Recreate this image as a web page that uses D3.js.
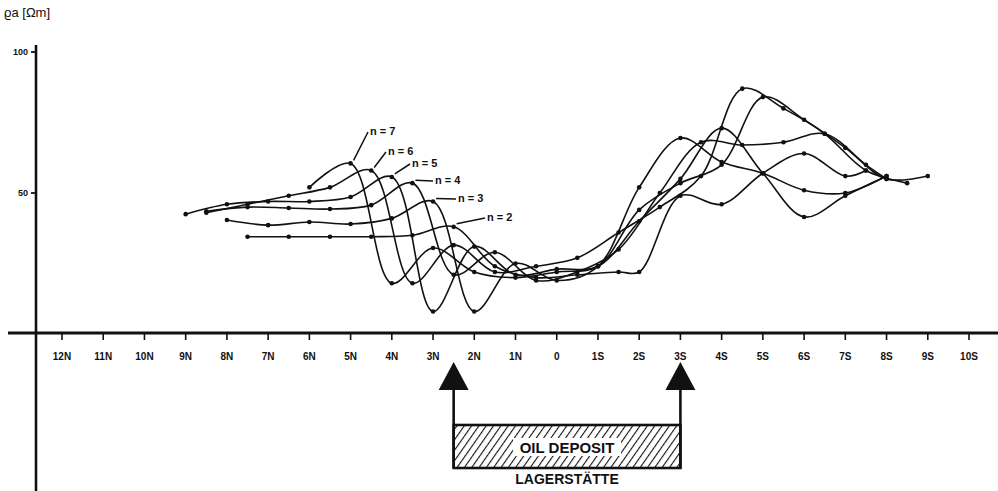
<!DOCTYPE html>
<meta charset="utf-8">
<style>
body { margin: 0; background: #fff; }
svg { display: block; }
text { font-family: "Liberation Sans", Arial, sans-serif; fill: #111; }
</style>
<body>
<script src="https://d3js.org/d3.v7.min.js"></script>
<script>

// station positions: N negative, S positive
var stations = [-12,-11,-10,-9,-8,-7,-6,-5,-4,-3,-2,-1,0,1,2,3,4,5,6,7,8,9,10];
var stationLabels = ["12N","11N","10N","9N","8N","7N","6N","5N","4N","3N","2N","1N","0",
                     "1S","2S","3S","4S","5S","6S","7S","8S","9S","10S"];
var yTicks = [50, 100];

// apparent resistivity [position, ohm-m] for each separation n
var n2 = [[-7.5,34.5],[-6.5,34.5],[-5.5,34.5],[-4.5,34.5],[-3.5,35],[-2.5,38],[-1.5,24],[-0.5,20],
          [0.5,21],[1.5,22],[2,22],[3,49],[4,46],[5,57],[6,64],[7,56],[7.5,58]];
var n3 = [[-8,40.4],[-7,38.6],[-6,39.7],[-5,39],[-4,41],[-3,47],[-2,8],[-1,25],[0,19],[1,24],
          [2,52],[3,69.5],[4,61],[5,57],[6,51],[7,50],[8,56]];
var n4 = [[-8.5,43.5],[-7.5,45],[-6.5,44.7],[-5.5,44.3],[-4.5,45.7],[-3.5,53.5],[-2.5,21],[-1.5,29],
          [-0.5,19],[0.5,22],[1.5,30],[2.5,50],[3.5,68],[4.5,67],[5.5,68],[6.5,71],[7.5,60],[8,55]];
var n5 = [[-9,42.5],[-8,46],[-7,47],[-6,47],[-5,48.6],[-4,55.7],[-3,8],[-2,31],[-1,21],[0,23],[1,24],
          [2,40],[3,55],[4,73],[5,57],[6,41.5],[7,49],[8,56]];
var n6 = [[-8.5,43],[-7.5,46],[-6.5,49],[-5.5,52],[-4.5,58],[-3.5,18],[-2.5,31.5],[-1.5,22],[-0.5,24],
          [0.5,27],[1.5,36],[2.5,45],[3.5,56],[4.5,87],[5.5,80],[6.5,71],[7.5,58],[8.5,53.5]];
var n7 = [[-6,52],[-5,60.5],[-4,18],[-3,30.5],[-2,22],[-1,20],[0,22],[1,24],[2,44],[3,53.5],
          [4,60],[5,84],[6,76],[7,66],[8,55],[9,56]];

var seriesNames = ["n = 7","n = 6","n = 5","n = 4","n = 3","n = 2"];
var seriesData = [n7, n6, n5, n4, n3, n2];
// deposit edges
var depositStart = -2.5, depositEnd = 3;

var width = 998, height = 491;

var svg = d3.select("body").append("svg")
    .attr("width", width)
    .attr("height", height);

var x = d3.scaleLinear().domain([-12, 10]).range([62, 969]);
var y = d3.scaleLinear().domain([0, 100]).range([334, 52]);

// axes lines
svg.append("line")
    .attr("x1", 36).attr("x2", 36).attr("y1", 45).attr("y2", height)
    .attr("stroke", "#111").attr("stroke-width", 2.6);
svg.append("line")
    .attr("x1", 8).attr("x2", width).attr("y1", 333).attr("y2", 333)
    .attr("stroke", "#111").attr("stroke-width", 3);

// x ticks
var xg = svg.append("g");
xg.selectAll("line").data(stations).enter().append("line")
    .attr("x1", function(d) { return x(d); })
    .attr("x2", function(d) { return x(d); })
    .attr("y1", 333).attr("y2", 340)
    .attr("stroke", "#111").attr("stroke-width", 1.6);
xg.selectAll("text").data(stations).enter().append("text")
    .attr("x", function(d) { return x(d); })
    .attr("y", 360)
    .attr("text-anchor", "middle")
    .attr("font-size", 10)
    .attr("font-weight", "bold")
    .text(function(d, i) { return stationLabels[i]; });

// y ticks
var yg = svg.append("g");
yg.selectAll("line").data(yTicks).enter().append("line")
    .attr("x1", 31).attr("x2", 37)
    .attr("y1", function(d) { return y(d); })
    .attr("y2", function(d) { return y(d); })
    .attr("stroke", "#111").attr("stroke-width", 1.8);
yg.selectAll("text").data(yTicks).enter().append("text")
    .attr("x", 28)
    .attr("y", function(d) { return y(d) + 3; })
    .attr("text-anchor", "end")
    .attr("font-size", 9)
    .attr("font-weight", "bold")
    .text(function(d) { return d; });

svg.append("text")
    .attr("x", 4).attr("y", 17)
    .attr("font-size", 13)
    .text("ϱa [Ωm]");

// curves
var line = d3.line()
    .x(function(d) { return x(d[0]); })
    .y(function(d) { return y(d[1]); })
    .curve(d3.curveCatmullRom.alpha(0.5));

var curves = svg.append("g");
seriesData.forEach(function(s) {
  curves.append("path")
      .attr("d", line(s))
      .attr("fill", "none")
      .attr("stroke", "#111")
      .attr("stroke-width", 1.6);
  curves.selectAll(null).data(s).enter().append("circle")
      .attr("cx", function(d) { return x(d[0]); })
      .attr("cy", function(d) { return y(d[1]); })
      .attr("r", 2.3)
      .attr("fill", "#111");
});

// n labels with leaders, anchored to the left peaks
var labelPos = [[370,135],[388,155],[412,167],[435,184],[458,202],[487,221]];
seriesData.forEach(function(s, i) {
  var peak = s.reduce(function(a, b) { return (b[0] < 0 && b[1] > a[1]) ? b : a; }, [0, -1]);
  var px = x(peak[0]) + 3, py = y(peak[1]) - 3;
  var lx = labelPos[i][0], ly = labelPos[i][1];
  svg.append("line")
      .attr("x1", px).attr("y1", py).attr("x2", lx - 2).attr("y2", ly - 3)
      .attr("stroke", "#111").attr("stroke-width", 1.5);
  svg.append("text")
      .attr("x", lx).attr("y", ly)
      .attr("font-size", 11)
      .attr("font-weight", "bold")
      .text(seriesNames[i]);
});

// oil deposit
var defs = svg.append("defs");
var pat = defs.append("pattern")
    .attr("id", "hatch")
    .attr("patternUnits", "userSpaceOnUse")
    .attr("width", 6).attr("height", 6)
    .attr("patternTransform", "rotate(35)");
pat.append("line")
    .attr("x1", 0).attr("x2", 0).attr("y1", 0).attr("y2", 6)
    .attr("stroke", "#111").attr("stroke-width", 2.2);

var bx0 = x(depositStart), bx1 = x(depositEnd);
svg.append("rect")
    .attr("x", bx0).attr("y", 425)
    .attr("width", bx1 - bx0).attr("height", 43)
    .attr("fill", "url(#hatch)")
    .attr("stroke", "#111").attr("stroke-width", 2.6);
svg.append("rect")
    .attr("x", (bx0 + bx1) / 2 - 54).attr("y", 438)
    .attr("width", 108).attr("height", 18)
    .attr("fill", "#fff");
svg.append("text")
    .attr("x", (bx0 + bx1) / 2).attr("y", 453)
    .attr("text-anchor", "middle")
    .attr("font-size", 15)
    .attr("font-weight", "bold")
    .text("OIL DEPOSIT");
svg.append("text")
    .attr("x", (bx0 + bx1) / 2).attr("y", 484)
    .attr("text-anchor", "middle")
    .attr("font-size", 14)
    .attr("font-weight", "bold")
    .text("LAGERSTÄTTE");

[bx0, bx1].forEach(function(ax) {
  svg.append("line")
      .attr("x1", ax).attr("x2", ax).attr("y1", 385).attr("y2", 468)
      .attr("stroke", "#111").attr("stroke-width", 2.6);
  svg.append("path")
      .attr("d", "M" + ax + ",362L" + (ax - 15) + ",390L" + (ax + 15) + ",390Z")
      .attr("fill", "#111");
});

</script>
</body>
